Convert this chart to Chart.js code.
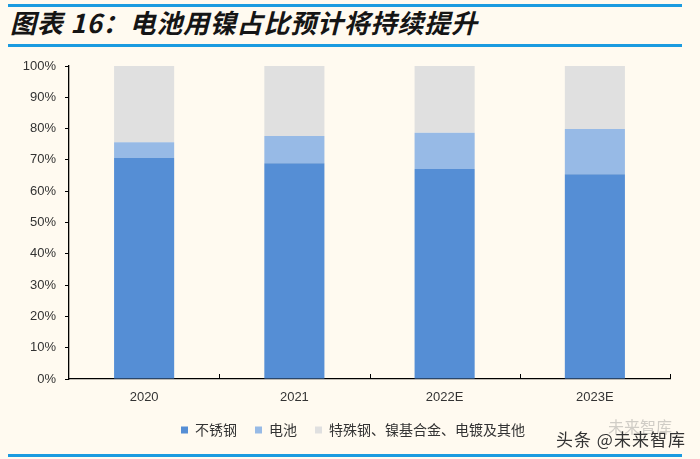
<!DOCTYPE html>
<html>
<head>
<meta charset="utf-8">
<script src="https://cdn.jsdelivr.net/npm/chart.js@4/dist/chart.umd.min.js"></script>
<style>
  html, body { margin: 0; padding: 0; background: #fffaf0; }
  #wrap { position: relative; width: 700px; height: 459px; overflow: hidden; background: #fffaf0; }
  .rule { position: absolute; left: 8px; width: 674px; height: 3px; background: #1b9be0; }
  #title { position: absolute; left: 10px; top: 3px; font: italic bold 26px "Noto Sans CJK SC", sans-serif; color: #151515; letter-spacing: 0.8px; }
  #mark { position: absolute; left: 556px; top: 426px; font: 17px "Noto Sans CJK SC", sans-serif; color: #333; letter-spacing: 1px; }
  #mark2 { position: absolute; left: 608px; top: 414px; font: 16px "Noto Sans CJK SC", sans-serif; color: rgba(120,120,120,0.35); }
  canvas { position: absolute; left: 0; top: 0; }
</style>
</head>
<body>
<div id="wrap">
  <div class="rule" style="top:4px"></div>
  <div id="title">图表 16：电池用镍占比预计将持续提升</div>
  <div class="rule" style="top:44px"></div>
  <canvas id="c" width="700" height="459"></canvas>
  <div id="mark2">未来智库</div>
  <div id="mark">头条 @未来智库</div>
  <div class="rule" style="top:454px"></div>
</div>
<script>
const years = ['2020', '2021', '2022E', '2023E'];
const stainless = [70.6, 68.9, 67.1, 65.4];
const battery = [5.0, 8.7, 11.6, 14.5];
const others = [24.4, 22.4, 21.3, 20.1];
const yTicks = [0, 10, 20, 30, 40, 50, 60, 70, 80, 90, 100];

// small inward ticks between categories on the x axis
const catTicks = {
  id: 'catTicks',
  afterLayout(chart) {
    // legend sits a bit right of centre in the original
    chart.legend.left += 18;
    chart.legend.right += 18;
  },
  afterDraw(chart) {
    const x = chart.scales.x, y = chart.scales.y, ctx = chart.ctx;
    ctx.save();
    ctx.strokeStyle = '#000';
    ctx.lineWidth = 1;
    for (let i = 1; i <= years.length; i++) {
      const px = Math.round(x.getPixelForValue(i - 0.5)) + 0.5;
      ctx.beginPath();
      ctx.moveTo(px, y.bottom);
      ctx.lineTo(px, y.bottom - 5);
      ctx.stroke();
    }
    ctx.restore();
  }
};

new Chart(document.getElementById('c'), {
  type: 'bar',
  data: {
    labels: years,
    datasets: [
      { label: '不锈钢', data: stainless, backgroundColor: '#558ed5' },
      { label: '电池', data: battery, backgroundColor: '#97bae6' },
      { label: '特殊钢、镍基合金、电镀及其他', data: others, backgroundColor: '#e0e0e0' }
    ]
  },
  options: {
    responsive: false,
    animation: false,
    layout: { padding: { left: 0, right: 30, top: 66, bottom: 12 } },
    datasets: { bar: { categoryPercentage: 0.4, barPercentage: 1 } },
    plugins: {
      legend: {
        position: 'bottom',
        labels: {
          boxWidth: 7, boxHeight: 7, padding: 18,
          color: '#333',
          font: { family: '"Noto Sans CJK SC", sans-serif', size: 14 }
        }
      },
      tooltip: { enabled: false }
    },
    scales: {
      x: {
        stacked: true,
        afterFit(s) { s.height = 26; },
        grid: { display: false, drawTicks: false, tickLength: 0 },
        border: { color: '#000', width: 1.3 },
        ticks: { color: '#333', padding: 11, font: { family: 'Arial, "Liberation Sans", sans-serif', size: 13 } }
      },
      y: {
        stacked: true,
        min: 0, max: 100,
        afterFit(s) { s.width = 69; },
        afterBuildTicks(s) { s.ticks = yTicks.map(v => ({ value: v })); },
        grid: { drawOnChartArea: false, drawTicks: true, tickLength: 4, color: '#000' },
        border: { color: '#000', width: 1.3 },
        ticks: {
          color: '#333', padding: 9,
          font: { family: 'Arial, "Liberation Sans", sans-serif', size: 13 },
          callback: v => v + '%'
        }
      }
    }
  },
  plugins: [catTicks]
});
</script>
</body>
</html>
